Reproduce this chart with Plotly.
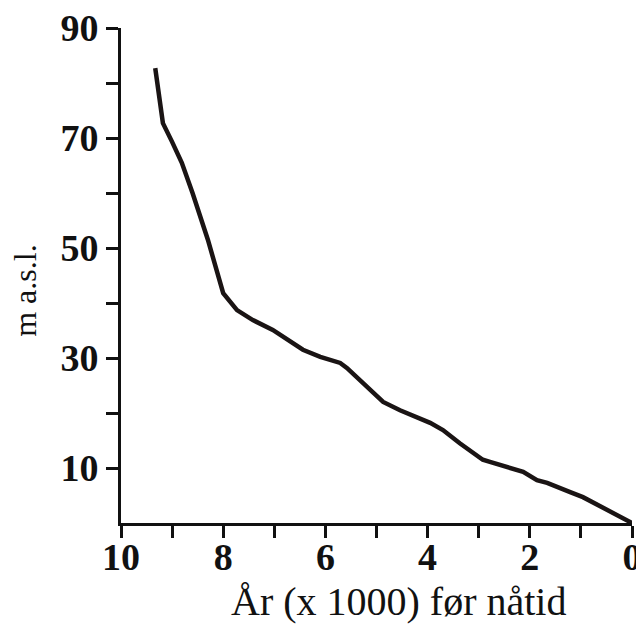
import plotly.graph_objects as go

years_kyr = [9.33, 9.18, 9.0, 8.81, 8.6, 8.3, 8.0, 7.73, 7.42, 7.03, 6.44, 6.1, 5.71, 5.58,
             4.87, 4.54, 3.95, 3.7, 3.37, 2.92, 2.78, 2.13, 1.86, 1.66, 1.21, 0.96, 0.0]
elevation_m = [82.7, 72.7, 69.3, 65.5, 60.0, 51.5, 41.8, 38.7, 36.9, 35.1, 31.5, 30.2, 29.1, 28.2,
               22.0, 20.5, 18.2, 16.9, 14.5, 11.5, 11.1, 9.3, 7.8, 7.3, 5.6, 4.7, 0.0]

x_tickvals = [10, 9, 8, 7, 6, 5, 4, 3, 2, 1, 0]
x_ticktext = ["10", "", "8", "", "6", "", "4", "", "2", "", "0"]
y_tickvals = [10, 20, 30, 40, 50, 60, 70, 80, 90]
y_ticktext = ["10", "", "30", "", "50", "", "70", "", "90"]

x_title = "År (x 1000) før nåtid"
y_title = "m a.s.l."

FONT = "Liberation Serif"
INK = "#111111"

fig = go.Figure()
fig.add_trace(go.Scatter(x=years_kyr, y=elevation_m, mode="lines",
                         line=dict(color="#1a1414", width=4.5), showlegend=False,
                         cliponaxis=False))

fig.update_layout(
    width=636, height=618,
    margin=dict(l=113, r=12, t=20, b=103, autoexpand=False),
    paper_bgcolor="white", plot_bgcolor="white",
    font=dict(family=FONT, color=INK),
    xaxis=dict(range=[10, 0], tickvals=x_tickvals, ticktext=x_ticktext,
               ticks="outside", ticklen=12, tickwidth=3, tickcolor=INK,
               showline=True, linewidth=3, linecolor=INK,
               showgrid=False, zeroline=False, automargin=False,
               tickfont=dict(family=FONT, size=38, color=INK, weight="bold"),
               ticklabelstandoff=-14, ticklabeloverflow="allow"),
    yaxis=dict(range=[0, 90], tickvals=y_tickvals, ticktext=y_ticktext,
               ticks="outside", ticklen=12, tickwidth=3, tickcolor=INK,
               showline=True, linewidth=3, linecolor=INK,
               showgrid=False, zeroline=False, automargin=False,
               tickfont=dict(family=FONT, size=38, color=INK, weight="bold"),
               ticklabelstandoff=0, ticklabeloverflow="allow"),
    annotations=[
        dict(text=x_title, xref="paper", yref="paper", x=0.544, y=-0.109,
             xanchor="center", yanchor="top", showarrow=False,
             font=dict(family=FONT, size=40, color=INK)),
        dict(text=y_title, xref="paper", yref="paper", x=-0.188, y=0.469,
             xanchor="center", yanchor="middle", textangle=-90, showarrow=False,
             font=dict(family=FONT, size=32, color=INK)),
    ],
)

fig.write_html("out.html")
